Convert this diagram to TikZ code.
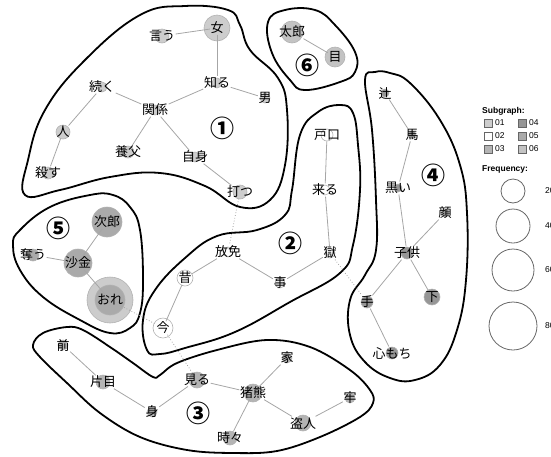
\documentclass[tikz,border=0pt]{standalone}
\usepackage{fontspec}
\setmainfont{Liberation Sans}
\newfontfamily\jp{Noto Sans CJK JP}
\usetikzlibrary{backgrounds}
\definecolor{sgA}{RGB}{205,205,205}
\definecolor{sgB}{RGB}{255,255,255}
\definecolor{sgC}{RGB}{180,180,180}
\definecolor{sgD}{RGB}{150,150,150}
\definecolor{sgE}{RGB}{170,170,170}
\definecolor{sgF}{RGB}{195,195,195}
\tikzset{
  word/.style  ={font=\jp\fontsize{13}{13}\selectfont, inner sep=0.5pt},
  wline/.style ={line width=0.8pt, black!35},
  wdot/.style  ={line width=0.8pt, black!35, dotted},
  hull/.style  ={line width=1.8pt, black, line join=round},
  freq/.style  ={draw=black!30, line width=0.6pt},
  snum/.style  ={font=\jp\bfseries\fontsize{24}{24}\selectfont, inner sep=0pt},
  lgtitle/.style={font=\bfseries\fontsize{8.5}{9}\selectfont, anchor=west, inner sep=0pt},
  lgtext/.style ={font=\fontsize{8.5}{9}\selectfont, anchor=west, inner sep=0pt},
  lgbox/.style  ={draw=black!60, minimum size=7.5pt, inner sep=0pt},
  lgcirc/.style ={draw=black!60, line width=0.8pt},
}
\begin{document}
\begin{tikzpicture}[x=1pt,y=-1pt]
\useasboundingbox (0,0) rectangle (551,456);
% outlines of the subgraphs
\begin{scope}[on background layer]
  \draw[hull] plot[smooth cycle, tension=0.7] coordinates {(25,195) (28,160) (45,110) (85,60) (140,15) (185,6) (228,10) (240,25) (250,50) (278,78) (287,110) (285,165) (270,200) (240,207) (205,186) (160,173) (110,177) (60,190)};
  \draw[hull] plot[smooth cycle, tension=0.7] coordinates {(268,22) (285,10) (315,10) (335,25) (355,52) (355,72) (340,82) (305,90) (290,80) (272,53)};
  \draw[hull] plot[smooth cycle, tension=0.7] coordinates {(365,80) (375,72) (390,73) (410,83) (440,120) (460,165) (467,213) (466,280) (457,330) (440,365) (415,380) (390,378) (365,362) (350,335) (350,300) (365,275) (376,250) (376,200) (372,130)};
  \draw[hull] plot[smooth cycle, tension=0.7] coordinates {(147,350) (143,320) (155,290) (185,258) (217,236) (257,230) (285,215) (292,190) (300,135) (318,112) (340,105) (353,113) (358,145) (360,190) (353,245) (340,273) (290,302) (235,332) (185,348) (160,354)};
  \draw[hull] plot[smooth cycle, tension=0.7] coordinates {(13,245) (20,230) (50,207) (90,195) (113,195) (130,207) (140,230) (143,280) (140,313) (130,328) (110,333) (80,320) (43,297) (20,270)};
  \draw[hull] plot[smooth cycle, tension=0.6] coordinates {(33,345) (43,333) (67,327) (83,330) (110,347) (133,363) (153,377) (160,375) (177,363) (217,350) (267,340) (310,347) (350,370) (370,390) (373,403) (360,417) (320,437) (277,451) (233,453) (187,450) (140,437) (100,413) (67,383) (40,357)};
\end{scope}
% words, with their frequency circles
\foreach \n/\x/\y/\r/\t in {onna/217/28/13/女, iu/162/36/7/言う, shiru/217/83/5/知る, otoko/265/98/5/男, tsuzuku/102/87/5/続く, kankei/155/110/5/関係, hito/63/132/7/人, yofu/128/152/6/養父, jishin/195/157/5/自身, korosu/48/173/6/殺す, utsu/240/192/7/打つ} {
  \begin{scope}[on background layer]\fill[freq, fill=sgA] (\x,\y) circle (\r pt);\end{scope}
  \node[word] (\n) at (\x,\y) {\t};
}
\foreach \n/\x/\y/\r/\t in {taro/292/32/11/太郎, me/335/57/10/目} {
  \begin{scope}[on background layer]\fill[freq, fill=sgF] (\x,\y) circle (\r pt);\end{scope}
  \node[word] (\n) at (\x,\y) {\t};
}
\foreach \n/\x/\y/\r/\t in {tsuji/385/93/4/辻, uma/412/135/4/馬, kuroi/398/188/4/黒い, kao/445/213/4/顔, kodomo/407/253/6/子供, shita/432/297/8/下, te/367/302/6/手, kokoro/392/353/6/心もち} {
  \begin{scope}[on background layer]\fill[freq, fill=sgD] (\x,\y) circle (\r pt);\end{scope}
  \node[word] (\n) at (\x,\y) {\t};
}
\foreach \n/\x/\y/\r/\t in {toguchi/327/135/6/戸口, kuru/325/190/5/来る, goku/330/253/5/獄, koto/280/283/5/事, homen/228/252/5/放免, mukashi/185/278/8/昔, ima/163/328/10/今} {
  \begin{scope}[on background layer]\filldraw[freq, fill=sgB] (\x,\y) circle (\r pt);\end{scope}
  \node[word] (\n) at (\x,\y) {\t};
}
\begin{scope}[on background layer]
  \filldraw[freq, fill=sgE!60] (110,300) circle (23pt);
\end{scope}
\foreach \n/\x/\y/\r/\t in {jiro/107/222/15/次郎, ubau/33/255/6/奪う, shakin/78/263/14/沙金, ore/110/300/15/おれ} {
  \begin{scope}[on background layer]\filldraw[freq, fill=sgE] (\x,\y) circle (\r pt);\end{scope}
  \node[word] (\n) at (\x,\y) {\t};
}
\foreach \n/\x/\y/\r/\t in {mae/63/345/5/前, katame/103/382/7/片目, mi/152/412/5/身, miru/197/380/8/見る, ikuma/253/393/9/猪熊, ie/287/358/5/家, ro/350/398/5/牢, nusubito/303/423/8/盗人, tokidoki/230/438/7/時々} {
  \begin{scope}[on background layer]\fill[freq, fill=sgC] (\x,\y) circle (\r pt);\end{scope}
  \node[word] (\n) at (\x,\y) {\t};
}
% links
\begin{scope}[on background layer]
  \foreach \a/\b in {onna/iu, onna/shiru, shiru/otoko, shiru/kankei, tsuzuku/kankei, tsuzuku/hito, hito/korosu, kankei/yofu, kankei/jishin, jishin/utsu, taro/me, tsuji/uma, uma/kuroi, kuroi/kodomo, kao/kodomo, kodomo/shita, kodomo/te, te/kokoro, toguchi/kuru, kuru/goku, goku/koto, koto/homen, homen/mukashi, mukashi/ima, ubau/shakin, shakin/jiro, shakin/ore, mae/katame, katame/mi, mi/miru, miru/ikuma, ikuma/ie, ikuma/nusubito, nusubito/ro, ikuma/tokidoki}
    \draw[wline] (\a) -- (\b);
  \foreach \a/\b in {utsu/homen, ore/ima, ima/miru, goku/te}
    \draw[wdot] (\a) -- (\b);
\end{scope}
% subgraph numbers
\node[snum] (s1) at (222,128) {①};
\node[snum] (s2) at (290,243) {②};
\node[snum] (s3) at (198,413) {③};
\node[snum] (s4) at (433,175) {④};
\node[snum] (s5) at (58,228) {⑤};
\node[snum] (s6) at (307,65) {⑥};
% legend
\node[lgtitle] (lgsub) at (482,111) {Subgraph:};
\foreach \c/\x/\y/\t in {sgA/488/123/01, sgB/488/136/02, sgC/488/149/03, sgD/522/123/04, sgE/522/136/05, sgF/522/149/06} {
  \node[lgbox, fill=\c] (box\t) at (\x,\y) {};
  \node[lgtext] at (\x+7,\y) {\t};
}
\node[lgtitle] (lgfreq) at (482,169) {Frequency:};
\foreach \y/\r/\t in {191/12/20, 226/17/40, 270/21/60, 326/24/80} {
  \draw[lgcirc] (513,\y) circle (\r pt);
  \node[lgtext] at (545,\y) {\t};
}
\end{tikzpicture}
\end{document}
